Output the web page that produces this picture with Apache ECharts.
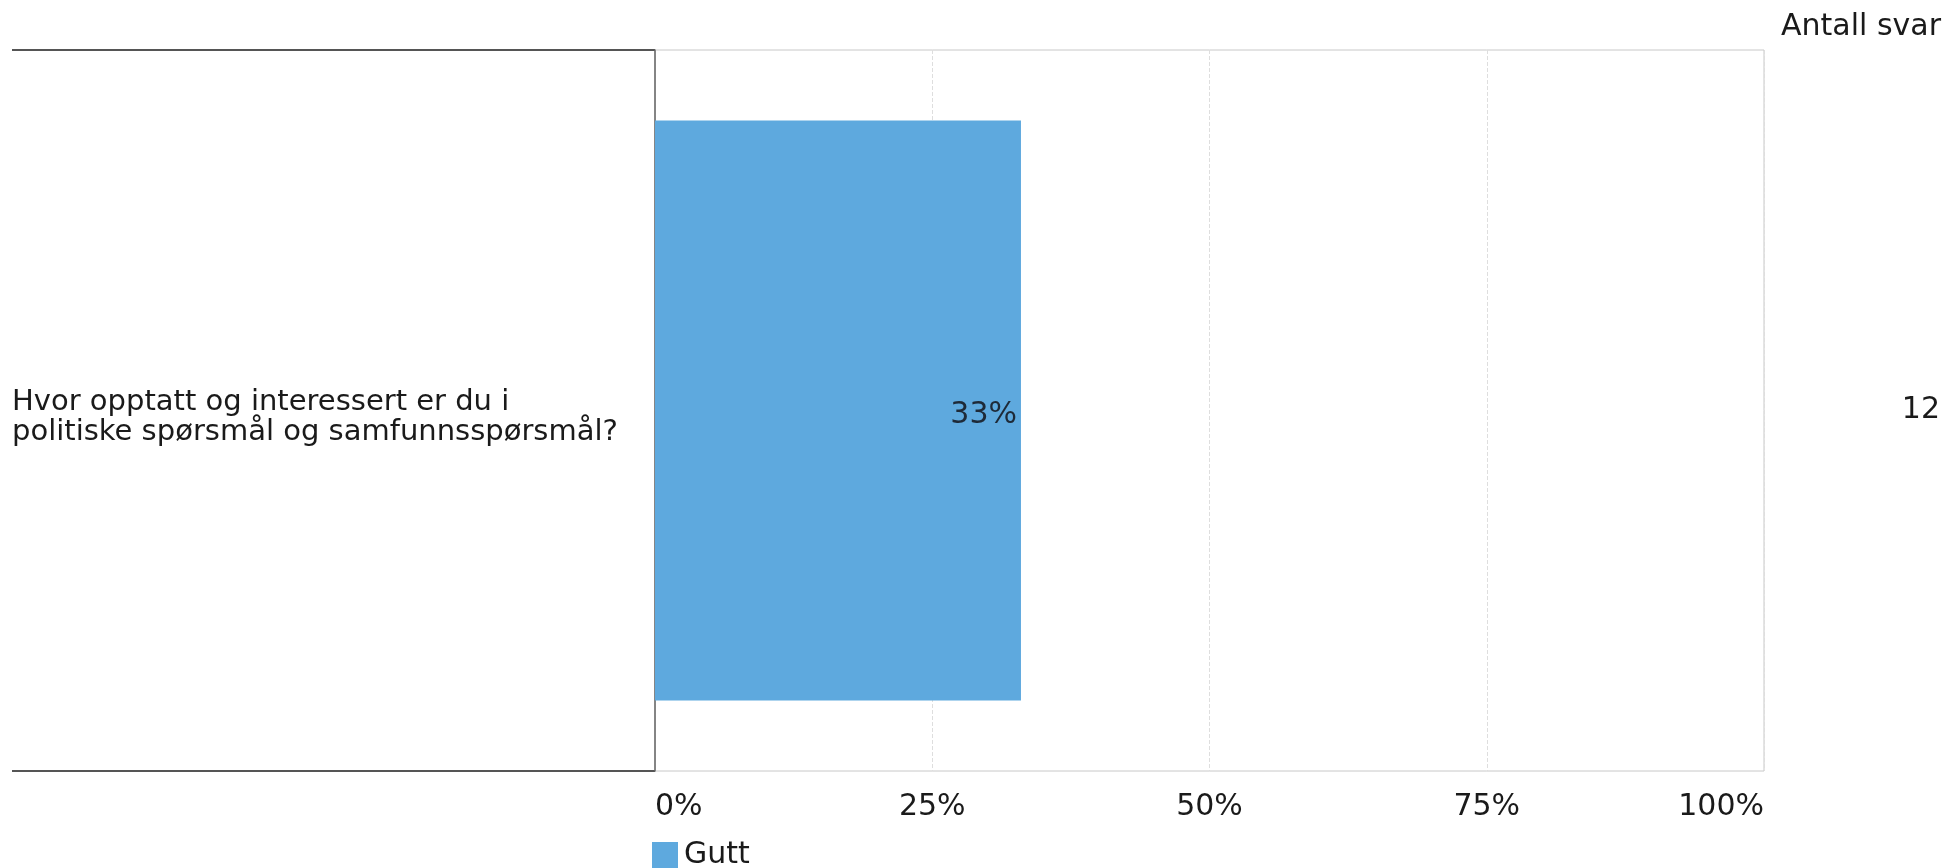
<!DOCTYPE html>
<html>
<head>
<meta charset="utf-8">
<script src="https://cdn.jsdelivr.net/npm/echarts@6/dist/echarts.min.js"></script>
<style>
  html, body { margin: 0; padding: 0; background: #fff; }
  #chart { width: 1948px; height: 868px; }
</style>
</head>
<body>
<div id="chart"></div>
<script>
// data
const categories = ['Hvor opptatt og interessert er du i\npolitiske spørsmål og samfunnsspørsmål?']
const seriesName = 'Gutt'
const values = [33]
const answerCounts = ['12']
const tickValues = [0, 25, 50, 75, 100]

const font = 'DejaVu Sans'
const textColor = '#1a1a1a'
const fontSize = 30

const chart = echarts.init(document.getElementById('chart'))

const option = {
  animation: false,
  textStyle: { fontFamily: font },
  title: {
    text: 'Antall svar',
    right: 2,
    top: 7,
    textStyle: { fontFamily: font, fontSize: fontSize, fontWeight: 'normal', color: textColor }
  },
  legend: {
    data: [seriesName],
    left: 652,
    top: 840,
    padding: 0,
    icon: 'rect',
    itemWidth: 26,
    itemHeight: 26,
    itemGap: 4,
    textStyle: { fontFamily: font, fontSize: fontSize, color: textColor, padding: [2, 0, 0, 1] }
  },
  grid: {
    left: 655,
    right: 184,
    top: 50,
    bottom: 97,
    show: true,
    borderColor: '#c8c8c8',
    borderWidth: 1
  },
  xAxis: {
    type: 'value',
    min: 0,
    max: 100,
    interval: 25,
    axisLine: { show: false },
    axisTick: { show: false },
    splitLine: { show: true, lineStyle: { color: '#dedede', type: 'dashed', width: 1 } },
    axisLabel: {
      fontFamily: font,
      fontSize: fontSize,
      color: textColor,
      margin: 21,
      alignMinLabel: 'left',
      alignMaxLabel: 'right',
      formatter: v => tickValues.includes(v) ? v + '%' : ''
    }
  },
  yAxis: [
    {
      type: 'category',
      data: categories,
      axisLine: { show: true, lineStyle: { color: '#666', width: 1.5 } },
      axisTick: { show: false },
      axisLabel: {
        fontFamily: font,
        fontSize: 29,
        color: textColor,
        align: 'left',
        margin: 643,
        formatter: v => v.split('\n').map(s => '{q|' + s + '}').join('\n'),
        rich: {
          q: { fontFamily: font, fontSize: 29, color: textColor, lineHeight: 30 }
        },
        padding: [13, 0, 0, 0]
      }
    },
    {
      type: 'category',
      position: 'right',
      data: answerCounts,
      axisLine: { show: false },
      axisTick: { show: false },
      axisLabel: {
        fontFamily: font,
        fontSize: fontSize,
        color: textColor,
        align: 'right',
        margin: 176,
        padding: [16, 0, 0, 0]
      }
    }
  ],
  graphic: [
    // dark rules framing the question column
    { type: 'line', shape: { x1: 12, y1: 50, x2: 655, y2: 50 }, style: { stroke: '#555', lineWidth: 2 } },
    { type: 'line', shape: { x1: 12, y1: 771, x2: 655, y2: 771 }, style: { stroke: '#555', lineWidth: 2 } }
  ],
  series: [
    {
      name: seriesName,
      type: 'bar',
      data: values,
      barWidth: 580,
      itemStyle: { color: '#5ea9de' },
      label: {
        show: true,
        position: 'insideRight',
        distance: 4,
        offset: [0, 5],
        formatter: '{c}%',
        fontFamily: font,
        fontSize: fontSize,
        color: '#1e2a38'
      }
    }
  ]
}

chart.setOption(option)
</script>
</body>
</html>
